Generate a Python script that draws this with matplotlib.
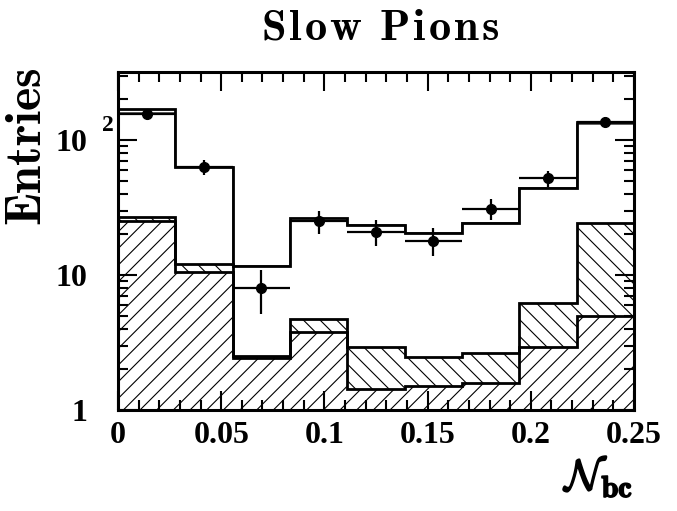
import numpy as np
import matplotlib
matplotlib.use('Agg')
import matplotlib.pyplot as plt
import matplotlib.patheffects as pe
from matplotlib.ticker import FixedLocator, FixedFormatter, LogLocator, NullFormatter, MultipleLocator

plt.rcParams['font.family'] = ['Liberation Serif', 'DejaVu Serif']
plt.rcParams['font.weight'] = 'bold'
plt.rcParams['mathtext.fontset'] = 'cm'
plt.rcParams['hatch.linewidth'] = 0.8
plt.rcParams['hatch.color'] = 'black'

# 9 bins in N_bc from 0 to 0.25
bin_edges = np.linspace(0, 0.25, 10)

# stacked components (entries per bin)
bkg_low = [25.3, 10.5, 2.43, 3.77, 1.43, 1.51, 1.58, 2.94, 4.97]   # hatched /
bkg_mid = [1.7, 1.5, 0.09, 0.93, 1.48, 0.97, 1.05, 3.3, 19.4]      # hatched \
signal = [131, 51, 9.2, 20.4, 20.6, 18.0, 21.7, 37.9, 107]
other = [12, 0, 0, 1.3, 0, 0, 0, 0, 4.5]

# data
data_n = [156, 63, 8, 25, 21, 18, 31, 52, 137]

lvl1 = np.array(bkg_low)
lvl2 = lvl1 + np.array(bkg_mid)
lvl3 = lvl2 + np.array(signal)
lvl4 = lvl3 + np.array(other)

fig = plt.figure(figsize=(6.77, 5.11), dpi=100)
ax = fig.add_axes([118/677, 1-410/511, 516/677, 338/511])

base = 0.5
ax.stairs(lvl1, bin_edges, baseline=base, fill=True, facecolor='none',
          edgecolor='black', linewidth=0, hatch='//')
ax.stairs(lvl2, bin_edges, baseline=lvl1, fill=True, facecolor='none',
          edgecolor='black', linewidth=0, hatch='\\\\')

ax.stairs(lvl1, bin_edges, baseline=None, color='black', linewidth=2.0)
ax.stairs(lvl2, bin_edges, baseline=None, color='black', linewidth=2.0)
ax.stairs(lvl3, bin_edges, baseline=None, color='#444444', linewidth=1.2)
ax.stairs(lvl4, bin_edges, baseline=None, color='black', linewidth=2.0)

centers = 0.5 * (bin_edges[1:] + bin_edges[:-1])
half = 0.5 * np.diff(bin_edges)
err = np.sqrt(np.array(data_n, dtype=float))
ax.errorbar(centers, data_n, xerr=half, yerr=err, fmt='o', color='black',
            markersize=7, elinewidth=1.6, capsize=0, zorder=5)

ax.set_yscale('log')
ax.set_xlim(0, 0.25)
ax.set_ylim(1, 319)

ax.xaxis.set_major_locator(FixedLocator([0, 0.05, 0.1, 0.15, 0.2, 0.25]))
ax.xaxis.set_major_formatter(FixedFormatter(['0', '0.05', '0.1', '0.15', '0.2', '0.25']))
ax.xaxis.set_minor_locator(MultipleLocator(0.01))

ax.yaxis.set_major_locator(FixedLocator([1, 10, 100]))
ax.yaxis.set_major_formatter(FixedFormatter(['1', '10', '10']))
ax.yaxis.set_minor_locator(LogLocator(base=10, subs=np.arange(2, 10)))
ax.yaxis.set_minor_formatter(NullFormatter())
# exponent of the 10^2 label
ax.text(-0.020, 127, '2', transform=ax.get_yaxis_transform(), ha='center', va='center',
        fontsize=17, fontweight='bold')

ax.tick_params(which='both', direction='in', top=True, right=True, width=1.5)
ax.tick_params(which='major', length=14)
ax.tick_params(which='minor', length=7)
ax.tick_params(axis='x', which='major', labelsize=23, pad=8)
ax.tick_params(axis='y', which='major', labelsize=23, pad=22)
for s in ax.spines.values():
    s.set_linewidth(2.2)

sp = r'\hspace{0.08}'
title = sp.join('Slow') + r'\hspace{0.45}' + sp.join('Pions')
fig.text(380/677, 1-29/511, r'$\mathbf{' + title + '}$', ha='center', va='center', fontsize=32)
fig.text(29/677, 1-68/511, r'$\mathbf{Entries}$', rotation=90, ha='center', va='top', fontsize=36)
xl = fig.text(634/677, 1-499/511, r'$\mathcal{N}_{\mathbf{bc}}$', ha='right', va='bottom', fontsize=31)
xl.set_path_effects([pe.withStroke(linewidth=1.2, foreground='black')])

fig.savefig('out.png', dpi=100)
